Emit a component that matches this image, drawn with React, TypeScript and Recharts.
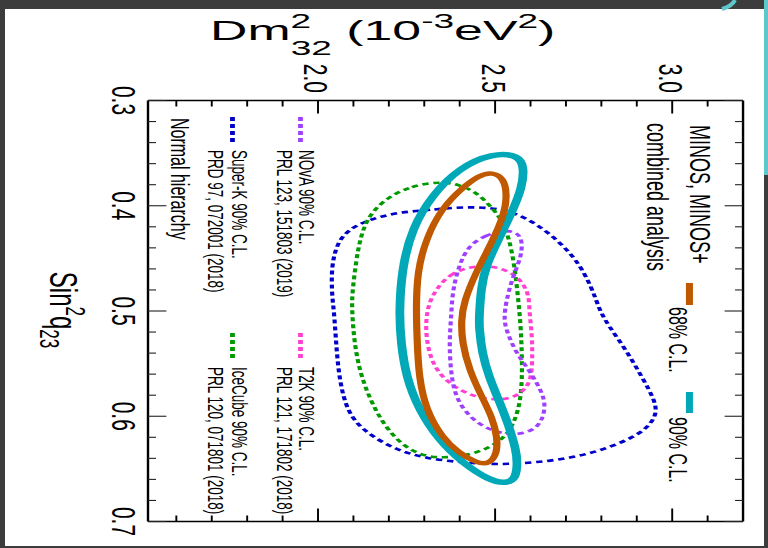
import { LineChart, Line, XAxis, YAxis } from "recharts";

// sin^2(theta23) ticks (minor every 0.02) and dm^2 ticks (minor every 0.1)
const sinTicks = [0.3, 0.32, 0.34, 0.36, 0.38, 0.4, 0.42, 0.44, 0.46, 0.48, 0.5, 0.52, 0.54, 0.56, 0.58, 0.6, 0.62, 0.64, 0.66, 0.68, 0.7];
const dmTicks = [1.6, 1.7, 1.8, 1.9, 2.0, 2.1, 2.2, 2.3, 2.4, 2.5, 2.6, 2.7, 2.8, 2.9, 3.0, 3.1];

// contours: s = sin^2(theta23), d = dm^2_32 (1e-3 eV^2)
const minos90 = [
  { s: 0.352, d: 2.568 }, { s: 0.350, d: 2.492 }, { s: 0.364, d: 2.398 }, { s: 0.390, d: 2.322 },
  { s: 0.421, d: 2.266 }, { s: 0.459, d: 2.237 }, { s: 0.501, d: 2.229 }, { s: 0.530, d: 2.234 },
  { s: 0.563, d: 2.249 }, { s: 0.594, d: 2.285 }, { s: 0.623, d: 2.342 }, { s: 0.644, d: 2.407 },
  { s: 0.661, d: 2.483 }, { s: 0.664, d: 2.531 }, { s: 0.659, d: 2.559 }, { s: 0.644, d: 2.563 },
  { s: 0.632, d: 2.559 }, { s: 0.610, d: 2.540 }, { s: 0.585, d: 2.511 }, { s: 0.563, d: 2.483 },
  { s: 0.540, d: 2.463 }, { s: 0.515, d: 2.455 }, { s: 0.507, d: 2.455 }, { s: 0.478, d: 2.460 },
  { s: 0.456, d: 2.475 }, { s: 0.431, d: 2.511 }, { s: 0.406, d: 2.548 }, { s: 0.383, d: 2.576 },
  { s: 0.364, d: 2.582 },
];

const minos68 = [
  { s: 0.368, d: 2.492 }, { s: 0.374, d: 2.525 }, { s: 0.390, d: 2.534 }, { s: 0.409, d: 2.525 },
  { s: 0.434, d: 2.492 }, { s: 0.463, d: 2.446 }, { s: 0.491, d: 2.412 }, { s: 0.509, d: 2.404 },
  { s: 0.530, d: 2.407 }, { s: 0.556, d: 2.427 }, { s: 0.582, d: 2.463 }, { s: 0.601, d: 2.492 },
  { s: 0.620, d: 2.506 }, { s: 0.635, d: 2.506 }, { s: 0.646, d: 2.483 }, { s: 0.644, d: 2.446 },
  { s: 0.635, d: 2.398 }, { s: 0.620, d: 2.350 }, { s: 0.594, d: 2.305 }, { s: 0.563, d: 2.285 },
  { s: 0.530, d: 2.280 }, { s: 0.499, d: 2.277 }, { s: 0.463, d: 2.280 }, { s: 0.431, d: 2.305 },
  { s: 0.402, d: 2.350 }, { s: 0.383, d: 2.407 }, { s: 0.371, d: 2.455 },
];

const iceCube = [
  { s: 0.378, d: 2.322 }, { s: 0.382, d: 2.257 }, { s: 0.393, d: 2.192 }, { s: 0.409, d: 2.144 },
  { s: 0.428, d: 2.121 }, { s: 0.453, d: 2.107 }, { s: 0.485, d: 2.096 }, { s: 0.499, d: 2.096 },
  { s: 0.530, d: 2.102 }, { s: 0.563, d: 2.121 }, { s: 0.597, d: 2.164 }, { s: 0.623, d: 2.220 },
  { s: 0.637, d: 2.285 }, { s: 0.640, d: 2.350 }, { s: 0.637, d: 2.427 }, { s: 0.629, d: 2.492 },
  { s: 0.616, d: 2.540 }, { s: 0.594, d: 2.568 }, { s: 0.568, d: 2.576 }, { s: 0.547, d: 2.576 },
  { s: 0.515, d: 2.573 }, { s: 0.478, d: 2.562 }, { s: 0.456, d: 2.554 }, { s: 0.431, d: 2.540 },
  { s: 0.412, d: 2.517 }, { s: 0.399, d: 2.483 }, { s: 0.387, d: 2.446 }, { s: 0.380, d: 2.398 },
  { s: 0.378, d: 2.362 },
];

const superK = [
  { s: 0.401, d: 2.407 }, { s: 0.404, d: 2.314 }, { s: 0.406, d: 2.237 }, { s: 0.411, d: 2.164 },
  { s: 0.420, d: 2.096 }, { s: 0.434, d: 2.054 }, { s: 0.459, d: 2.037 }, { s: 0.488, d: 2.040 },
  { s: 0.499, d: 2.045 }, { s: 0.530, d: 2.051 }, { s: 0.563, d: 2.059 }, { s: 0.597, d: 2.082 },
  { s: 0.616, d: 2.136 }, { s: 0.632, d: 2.220 }, { s: 0.640, d: 2.305 }, { s: 0.644, d: 2.407 },
  { s: 0.646, d: 2.511 }, { s: 0.644, d: 2.616 }, { s: 0.639, d: 2.729 }, { s: 0.629, d: 2.831 },
  { s: 0.616, d: 2.915 }, { s: 0.601, d: 2.955 }, { s: 0.587, d: 2.955 }, { s: 0.563, d: 2.915 },
  { s: 0.537, d: 2.870 }, { s: 0.515, d: 2.822 }, { s: 0.499, d: 2.794 }, { s: 0.478, d: 2.774 },
  { s: 0.450, d: 2.729 }, { s: 0.428, d: 2.661 }, { s: 0.411, d: 2.588 }, { s: 0.402, d: 2.511 },
];

const nova = [
  { s: 0.423, d: 2.520 }, { s: 0.428, d: 2.475 }, { s: 0.437, d: 2.427 }, { s: 0.456, d: 2.398 },
  { s: 0.482, d: 2.379 }, { s: 0.507, d: 2.376 }, { s: 0.530, d: 2.370 }, { s: 0.563, d: 2.376 },
  { s: 0.582, d: 2.390 }, { s: 0.597, d: 2.418 }, { s: 0.610, d: 2.463 }, { s: 0.618, d: 2.531 },
  { s: 0.616, d: 2.596 }, { s: 0.606, d: 2.633 }, { s: 0.587, d: 2.644 }, { s: 0.572, d: 2.624 },
  { s: 0.556, d: 2.596 }, { s: 0.540, d: 2.559 }, { s: 0.518, d: 2.531 }, { s: 0.507, d: 2.525 },
  { s: 0.491, d: 2.531 }, { s: 0.469, d: 2.548 }, { s: 0.447, d: 2.576 }, { s: 0.431, d: 2.576 },
  { s: 0.425, d: 2.559 },
];

const t2k = [
  { s: 0.458, d: 2.427 }, { s: 0.464, d: 2.379 }, { s: 0.475, d: 2.342 }, { s: 0.491, d: 2.314 },
  { s: 0.507, d: 2.305 }, { s: 0.525, d: 2.305 }, { s: 0.547, d: 2.319 }, { s: 0.563, d: 2.350 },
  { s: 0.575, d: 2.398 }, { s: 0.583, d: 2.455 }, { s: 0.585, d: 2.531 }, { s: 0.578, d: 2.576 },
  { s: 0.566, d: 2.602 }, { s: 0.547, d: 2.605 }, { s: 0.525, d: 2.605 }, { s: 0.499, d: 2.596 },
  { s: 0.485, d: 2.596 }, { s: 0.472, d: 2.576 }, { s: 0.464, d: 2.548 }, { s: 0.459, d: 2.511 },
  { s: 0.457, d: 2.475 },
];

const FONT = "'Liberation Sans', Arial, Helvetica, sans-serif";
const STRETCH = 1.6; // the slide picture is stretched horizontally

const isMajor = (v: number, k: number) => Math.abs(v * k - Math.round(v * k)) < 1e-6;

// bottom axis of the unrotated chart = left border on screen
function SinTick(props: any) {
  const { x, y, payload } = props;
  const major = isMajor(payload.value, 10);
  return (
    <g>
      <line x1={x} y1={y} x2={x} y2={y - (major ? 11.5 : 5)} stroke="#222" strokeWidth={1.1} />
      {major && (
        <text x={x} y={y + 22.5} textAnchor="middle" fontSize={21} fontFamily={FONT} fill="#000">
          {payload.value.toFixed(1)}
        </text>
      )}
    </g>
  );
}

function SinTickTop(props: any) {
  const { x, y, payload } = props;
  const major = isMajor(payload.value, 10);
  return <line x1={x} y1={y} x2={x} y2={y + (major ? 11.5 : 5)} stroke="#222" strokeWidth={1.1} />;
}

// left axis of the unrotated chart = top border on screen
function DmTick(props: any) {
  const { x, y, payload } = props;
  const major = isMajor(payload.value, 2);
  return (
    <g>
      <line x1={x} y1={y} x2={x + (major ? 13 : 6)} y2={y} stroke="#000" strokeWidth={1.2} />
      {major && (
        <text x={x - 7.5} y={y + 8.5} textAnchor="end" fontSize={21} fontFamily={FONT} fill="#000">
          {payload.value.toFixed(1)}
        </text>
      )}
    </g>
  );
}

function DmTickRight(props: any) {
  const { x, y, payload } = props;
  const major = isMajor(payload.value, 2);
  return <line x1={x} y1={y} x2={x - (major ? 13 : 6)} y2={y} stroke="#000" strokeWidth={1.2} />;
}

const dotted = { strokeWidth: 2.6, strokeDasharray: "4 3" };

function Contours() {
  return (
    <LineChart width={548} height={480} margin={{ top: 5.6, right: 16.5, bottom: 52.5, left: 60.5 }}>
      <XAxis
        xAxisId="b"
        orientation="bottom"
        type="number"
        dataKey="s"
        domain={[0.3, 0.7]}
        allowDataOverflow
        ticks={sinTicks}
        interval={0}
        height={40}
        tickSize={0}
        tickMargin={0}
        tickLine={false}
        axisLine={{ stroke: "#000", strokeWidth: 1.5 }}
        tick={SinTick}
      />
      <XAxis
        xAxisId="t"
        orientation="top"
        type="number"
        dataKey="s"
        domain={[0.3, 0.7]}
        allowDataOverflow
        ticks={sinTicks}
        interval={0}
        height={10}
        tickSize={0}
        tickMargin={0}
        tickLine={false}
        axisLine={{ stroke: "#000", strokeWidth: 1.5 }}
        tick={SinTickTop}
      />
      <YAxis
        yAxisId="l"
        orientation="left"
        type="number"
        dataKey="d"
        domain={[1.52, 3.2]}
        allowDataOverflow
        ticks={dmTicks}
        interval={0}
        width={40}
        tickSize={0}
        tickMargin={0}
        tickLine={false}
        axisLine={{ stroke: "#000", strokeWidth: 1.5 }}
        tick={DmTick}
      />
      <YAxis
        yAxisId="r"
        orientation="right"
        type="number"
        dataKey="d"
        domain={[1.52, 3.2]}
        allowDataOverflow
        ticks={dmTicks}
        interval={0}
        width={10}
        tickSize={0}
        tickMargin={0}
        tickLine={false}
        axisLine={{ stroke: "#000", strokeWidth: 1.5 }}
        tick={DmTickRight}
      />
      <Line xAxisId="b" yAxisId="l" data={superK} dataKey="d" type="basisClosed" stroke="#0000c8" {...dotted} dot={false} activeDot={false} isAnimationActive={false} />
      <Line xAxisId="b" yAxisId="l" data={iceCube} dataKey="d" type="basisClosed" stroke="#009a00" {...dotted} dot={false} activeDot={false} isAnimationActive={false} />
      <Line xAxisId="b" yAxisId="l" data={t2k} dataKey="d" type="basisClosed" stroke="#ff40d0" {...dotted} dot={false} activeDot={false} isAnimationActive={false} />
      <Line xAxisId="b" yAxisId="l" data={nova} dataKey="d" type="basisClosed" stroke="#a040ff" {...dotted} dot={false} activeDot={false} isAnimationActive={false} />
      <Line xAxisId="b" yAxisId="l" data={minos90} dataKey="d" type="basisClosed" stroke="#00a8b8" strokeWidth={5.5} dot={false} activeDot={false} isAnimationActive={false} />
      <Line xAxisId="b" yAxisId="l" data={minos68} dataKey="d" type="basisClosed" stroke="#c05800" strokeWidth={4.5} dot={false} activeDot={false} isAnimationActive={false} />
    </LineChart>
  );
}

// legend and axis title, in the same (unrotated) frame as the chart
function Overlay() {
  const t = { fontFamily: FONT, fill: "#000" } as const;
  return (
    <svg width={548} height={480} style={{ position: "absolute", left: 0, top: 0, pointerEvents: "none" }}>
      <line x1={117} y1={292.2} x2={143} y2={292.2} stroke="#a040ff" {...dotted} strokeWidth={3} />
      <text x={150} y={293} fontSize={13.5} {...t}>NOvA 90% C.L.</text>
      <text x={150} y={307} fontSize={13.5} {...t}>PRL 123, 151803 (2019)</text>
      <line x1={117} y1={334.7} x2={143} y2={334.7} stroke="#0000c8" {...dotted} strokeWidth={3} />
      <text x={150} y={335} fontSize={13.5} {...t}>Super-K 90% C.L.</text>
      <text x={150} y={350} fontSize={13.5} {...t}>PRD 97, 072001 (2018)</text>
      <text x={118} y={373} fontSize={16} {...t}>Normal hierarchy</text>

      <line x1={333} y1={292.2} x2={358} y2={292.2} stroke="#ff40d0" {...dotted} strokeWidth={3} />
      <text x={367} y={293} fontSize={13.5} {...t}>T2K 90% C.L.</text>
      <text x={367} y={307} fontSize={13.5} {...t}>PRL 121, 171802 (2018)</text>
      <line x1={333} y1={334.7} x2={358} y2={334.7} stroke="#009a00" {...dotted} strokeWidth={3} />
      <text x={367} y={335} fontSize={13.5} {...t}>IceCube 90% C.L.</text>
      <text x={367} y={350} fontSize={13.5} {...t}>PRL 120, 071801 (2018)</text>

      <text x={125} y={48.8} fontSize={18} {...t}>MINOS, MINOS+</text>
      <text x={123} y={75.6} fontSize={18} {...t}>combined analysis</text>
      <line x1={283} y1={49.1} x2={305} y2={49.1} stroke="#c05800" strokeWidth={4.4} />
      <text x={307} y={62} fontSize={16} {...t}>68% C.L.</text>
      <line x1={392} y1={49.1} x2={413} y2={49.1} stroke="#00a8b8" strokeWidth={4.4} />
      <text x={417} y={62} fontSize={16} {...t}>90% C.L.</text>

      <text x={310} y={449} fontSize={24} textAnchor="middle" {...t}>
        Sin<tspan fontSize={17} dy={-10}>2</tspan>
        <tspan dy={10}>q</tspan>
        <tspan fontSize={17} dy={6}>23</tspan>
      </text>
    </svg>
  );
}

export default function App() {
  return (
    <div style={{ position: "fixed", left: 0, top: 0, width: 768, height: 548, background: "#3c3c3c", overflow: "hidden" }}>
      <div style={{ position: "absolute", left: 5, top: 9, width: 759, height: 537, background: "#fff" }} />
      <div style={{ position: "absolute", left: 764, top: 0, width: 4, height: 175, background: "#5fc6cc" }} />
      <svg width={768} height={60} style={{ position: "absolute", left: 0, top: 0 }}>
        <path d="M 735 0 Q 732 6 722 9" stroke="#5fc6cc" strokeWidth={4} fill="none" />
        <g transform="translate(210,0) scale(1.85,1)">
          <text x={0} y={40} fontSize={28} fontFamily={FONT} fill="#000">
            Dm<tspan fontSize={20} dy={-12}>2</tspan>
            <tspan fontSize={20} dx={-11} dy={27}>32</tspan>
            <tspan dy={-15}> (10</tspan>
            <tspan fontSize={20} dy={-12}>-3</tspan>
            <tspan dy={12}>eV</tspan>
            <tspan fontSize={20} dy={-12}>2</tspan>
            <tspan dy={12}>)</tspan>
          </text>
        </g>
      </svg>
      <div style={{ position: "absolute", left: 0, top: 0, width: 480, height: 548, transform: `scaleX(${STRETCH})`, transformOrigin: "0 0" }}>
        <div style={{ position: "absolute", left: 0, top: 0, width: 548, height: 480, transform: "translate(480px, 0) rotate(90deg)", transformOrigin: "0 0" }}>
          <Contours />
          <Overlay />
        </div>
      </div>
    </div>
  );
}
